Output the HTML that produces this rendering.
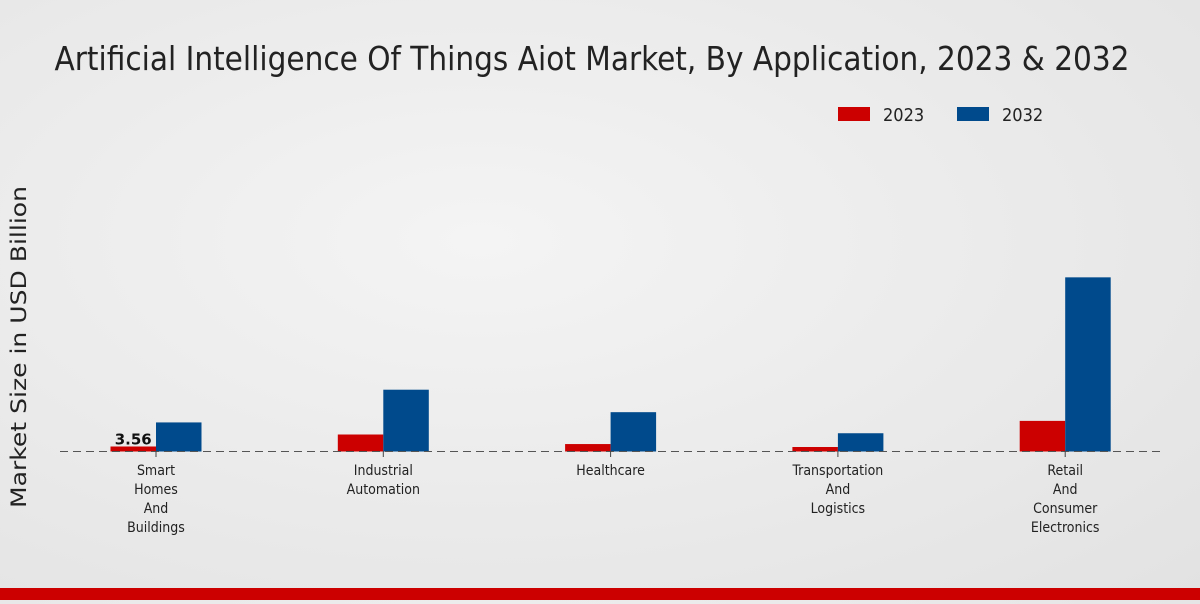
<!DOCTYPE html>
<html><head><meta charset="utf-8"><style>
body{margin:0;width:1200px;height:600px;overflow:hidden;background:radial-gradient(ellipse at 40% 40%,#f4f4f4,#e2e2e2);font-family:"DejaVu Sans","Liberation Sans",sans-serif}
</style></head><body>
<svg width="1200" height="600">
<text x="592" y="70" text-anchor="middle" font-size="33" fill="#222" style="font-family:'DejaVu Sans Condensed','DejaVu Sans',sans-serif" textLength="1075" lengthAdjust="spacingAndGlyphs">Artificial Intelligence Of Things Aiot Market, By Application, 2023 &amp; 2032</text>
<g>
<rect x="838" y="107" width="32" height="14" fill="#cc0000"/>
<text x="883" y="121" font-size="18" fill="#222" style="font-family:'DejaVu Sans Condensed','DejaVu Sans',sans-serif">2023</text>
<rect x="957" y="107" width="32" height="14" fill="#004a8c"/>
<text x="1002" y="121" font-size="18" fill="#222" style="font-family:'DejaVu Sans Condensed','DejaVu Sans',sans-serif">2032</text>
</g>
<text transform="translate(26,347) rotate(-90)" text-anchor="middle" font-size="21" fill="#222" textLength="322" lengthAdjust="spacingAndGlyphs">Market Size in USD Billion</text>
<g id="bars"></g>
<line x1="60" x2="1160" y1="451.5" y2="451.5" stroke="#555" stroke-dasharray="8,5"/>
<g id="labels"></g>
<rect x="0" y="588" width="1200" height="12" fill="#cc0000"/>
</svg>
<script>
const categories=[["Smart","Homes","And","Buildings"],["Industrial","Automation"],["Healthcare"],["Transportation","And","Logistics"],["Retail","And","Consumer","Electronics"]];
const values2023=[3.56,12.1,5.3,3.2,21.8];
const values2032=[20.7,44,28,13,124];
const NS="http://www.w3.org/2000/svg";
const base=451.5, ppu=5/3.56;
const y=v=>base-v*ppu;
const cx=i=>156+i*227.3;
const bars=document.getElementById('bars'),labels=document.getElementById('labels');
function rect(x,v,c,name){const r=document.createElementNS(NS,'rect');r.setAttribute('x',x);r.setAttribute('y',y(v));r.setAttribute('width',45.5);r.setAttribute('height',base-y(v));r.setAttribute('fill',c);


bars.appendChild(r);}
categories.forEach((c,i)=>{
rect(cx(i)-45.5,values2023[i],'#cc0000','bar-2023-'+i);
rect(cx(i),values2032[i],'#004a8c','bar-2032-'+i);
const tk=document.createElementNS(NS,'line');tk.setAttribute('x1',cx(i));tk.setAttribute('x2',cx(i));tk.setAttribute('y1',451);tk.setAttribute('y2',457);tk.setAttribute('stroke','#444');


labels.appendChild(tk);
c.forEach((line,j)=>{const t=document.createElementNS(NS,'text');t.setAttribute('x',cx(i));t.setAttribute('y',475+j*19);t.setAttribute('text-anchor','middle');t.setAttribute('font-size','14');t.setAttribute('fill','#222');t.setAttribute('style',"font-family:'DejaVu Sans Condensed','DejaVu Sans',sans-serif");t.textContent=line;


labels.appendChild(t);});
});
const vl=document.createElementNS(NS,'text');vl.setAttribute('x',cx(0)-22.75);vl.setAttribute('y',y(values2023[0])-2);vl.setAttribute('text-anchor','middle');vl.setAttribute('font-size','15');vl.setAttribute('font-weight','bold');vl.setAttribute('fill','#111');vl.textContent=values2023[0].toFixed(2);


labels.appendChild(vl);
</script>
</body></html>
